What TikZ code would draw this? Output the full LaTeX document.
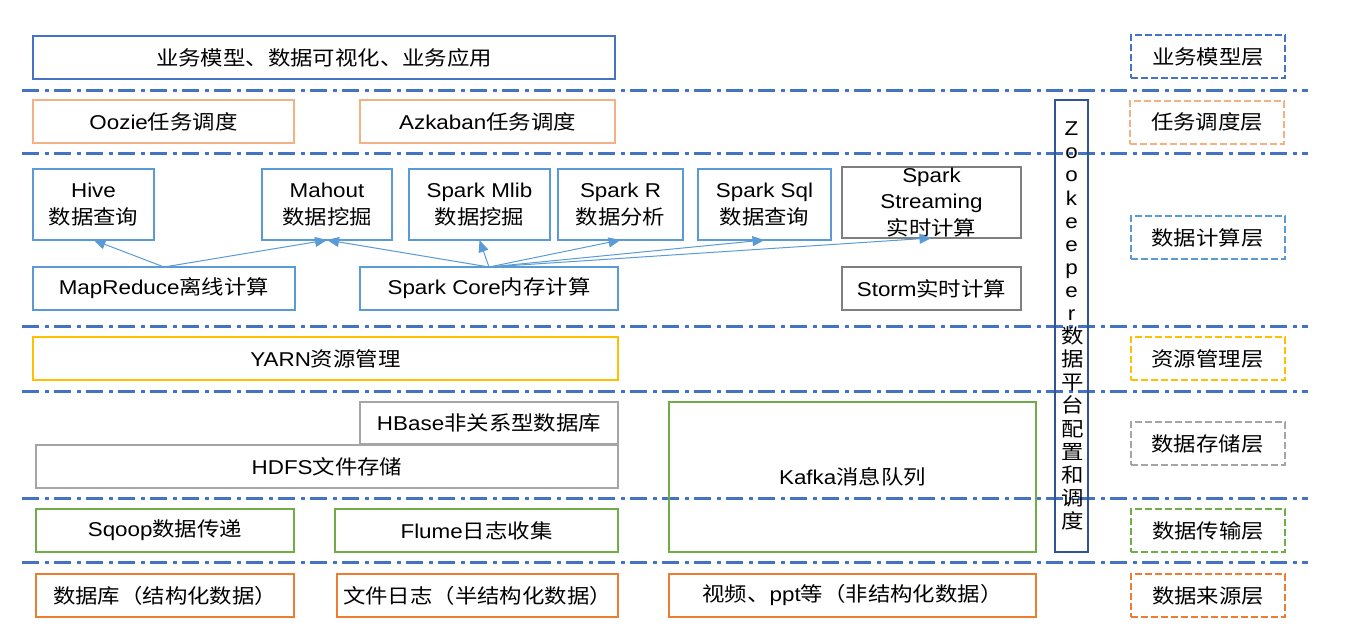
\documentclass[tikz,border=0pt]{standalone}
\usepackage{fontspec}
\setmainfont{Liberation Sans}[FakeStretch=1.12]
\newfontfamily\cjk{Noto Sans CJK SC}[FakeStretch=1.12]
\usetikzlibrary{arrows.meta}
\XeTeXinterchartokenstate=1
\newXeTeXintercharclass\CJKcls
\makeatletter
\count@="3000
\loop\XeTeXcharclass\count@=\CJKcls\advance\count@ 1 \ifnum\count@<"3040 \repeat
\count@="4E00
\loop\XeTeXcharclass\count@=\CJKcls\advance\count@ 1 \ifnum\count@<"A000 \repeat
\count@="FF00
\loop\XeTeXcharclass\count@=\CJKcls\advance\count@ 1 \ifnum\count@<"FFF0 \repeat
\makeatother
\XeTeXinterchartoks 0 \CJKcls = {\cjk}
\XeTeXinterchartoks 4095 \CJKcls = {\cjk}
\XeTeXinterchartoks \CJKcls 0 = {\rmfamily}
\XeTeXinterchartoks \CJKcls 4095 = {\rmfamily}
\definecolor{topblue}{HTML}{4472C4}
\definecolor{peach}{HTML}{F4B183}
\definecolor{compblue}{HTML}{5B9BD5}
\definecolor{darkgray}{HTML}{7F7F7F}
\definecolor{yarnyellow}{HTML}{FFC000}
\definecolor{storgray}{HTML}{A5A5A5}
\definecolor{tgreen}{HTML}{70AD47}
\definecolor{srcorange}{HTML}{ED7D31}
\definecolor{zkblue}{HTML}{2F5597}
\definecolor{lineblue}{HTML}{4472C4}
\begin{document}
\begin{tikzpicture}[x=1pt,y=-1pt,
  box/.style={draw=#1, line width=2pt, inner sep=0pt, outer sep=0pt, align=center,
    font=\fontsize{20}{27}\selectfont},
  lbl/.style={draw=#1, line width=2pt, dash pattern=on 7pt off 3pt, inner sep=0pt,
    outer sep=0pt, minimum width=154pt, minimum height=43pt, font=\fontsize{20}{27}\selectfont},
  layer/.style={draw=lineblue, line width=3pt, dash pattern=on 17pt off 6pt on 4pt off 5pt},
  arr/.style={draw=compblue, line width=1pt, -{Triangle[length=12pt,width=10pt]}}]
\useasboundingbox (0,0) rectangle (1347,630);
% layer separators
\foreach \yy in {90,153.5,326.5,391,498.5,562.5}
  \draw[layer] (22,\yy) -- (1308,\yy);
% business layer
\node[box=topblue, minimum width=582pt, minimum height=43pt] (biz) at (324,57.5) {业务模型、数据可视化、业务应用};
\node[lbl=topblue] (l1) at (1208,56.5) {业务模型层};
% scheduling
\node[box=peach, minimum width=261pt, minimum height=43pt] (oozie) at (163.5,121.5) {Oozie任务调度};
\node[box=peach, minimum width=255pt, minimum height=43pt] (azk) at (487.5,121.5) {Azkaban任务调度};
\node[lbl=peach] (l2) at (1207,122) {任务调度层};
% zookeeper
\node[box=zkblue, minimum width=33pt, minimum height=452pt, font=\fontsize{20}{23.1}\selectfont] (zk) at (1071.5,326)
  {\raisebox{-3pt}{\parbox{20pt}{\centering Z\\o\\o\\k\\e\\e\\p\\e\\r\\数\\据\\平\\台\\配\\置\\和\\调\\度}}};
% computing
\node[box=compblue, minimum width=121pt, minimum height=71pt] (hive) at (93.5,204.5) {Hive\\数据查询};
\node[box=compblue, minimum width=130pt, minimum height=71pt] (mahout) at (327,204.5) {Mahout\\数据挖掘};
\node[box=compblue, minimum width=141pt, minimum height=71pt] (mlib) at (479.5,204.5) {Spark Mlib\\数据挖掘};
\node[box=compblue, minimum width=125pt, minimum height=71pt] (sparkr) at (620.5,204.5) {Spark R\\数据分析};
\node[box=compblue, minimum width=133pt, minimum height=71pt] (sql) at (764.5,204.5) {Spark Sql\\数据查询};
\node[box=darkgray, minimum width=179pt, minimum height=71pt, font=\fontsize{20}{26.5}\selectfont] (stream) at (931.5,202.5) {Spark\\Streaming\\实时计算};
\node[box=compblue, minimum width=262pt, minimum height=43pt] (mapr) at (164,288.5) {MapReduce离线计算};
\node[box=compblue, minimum width=258pt, minimum height=43pt] (score) at (489,288.5) {Spark Core内存计算};
\node[box=darkgray, minimum width=179pt, minimum height=43pt] (storm) at (931.5,288.5) {Storm实时计算};
\node[lbl=compblue] (l3) at (1207.5,237.5) {数据计算层};
\draw[arr] (mapr.north) -- (hive.south);
\draw[arr] (mapr.north) -- (mahout.south);
\draw[arr] (score.north) -- (mahout.south);
\draw[arr] (score.north) -- (mlib.south);
\draw[arr] (score.north) -- (sparkr.south);
\draw[arr] (score.north) -- (sql.south);
\draw[arr] (score.north) -- (stream.south);
% resource
\node[box=yarnyellow, minimum width=585pt, minimum height=43pt] (yarn) at (325.5,358.5) {YARN资源管理};
\node[lbl=yarnyellow] (l4) at (1207.5,358.5) {资源管理层};
% storage
\node[box=storgray, minimum width=258pt, minimum height=42pt] (hbase) at (489,423) {HBase非关系型数据库};
\node[box=storgray, minimum width=582pt, minimum height=43pt] (hdfs) at (327,466.5) {HDFS文件存储};
\node[box=tgreen, minimum width=367pt, minimum height=150pt] (kafka) at (852.5,477) {Kafka消息队列};
\node[lbl=storgray] (l5) at (1207.5,443.5) {数据存储层};
% transfer
\node[box=tgreen, minimum width=258pt, minimum height=43pt] (sqoop) at (165,530.5) {Sqoop数据传递};
\node[box=tgreen, minimum width=283pt, minimum height=43pt] (flume) at (476.5,530.5) {Flume日志收集};
\node[lbl=tgreen] (l6) at (1208,530.5) {数据传输层};
% sources
\node[box=srcorange, minimum width=258pt, minimum height=43pt] (db) at (165,595.5) {数据库（结构化数据）};
\node[box=srcorange, minimum width=281pt, minimum height=43pt] (file) at (477.5,595.5) {文件日志（半结构化数据）};
\node[box=srcorange, minimum width=367pt, minimum height=43pt] (video) at (852.5,595.5) {视频、ppt等（非结构化数据）};
\node[lbl=srcorange] (l7) at (1208,595.5) {数据来源层};
\end{tikzpicture}
\end{document}
